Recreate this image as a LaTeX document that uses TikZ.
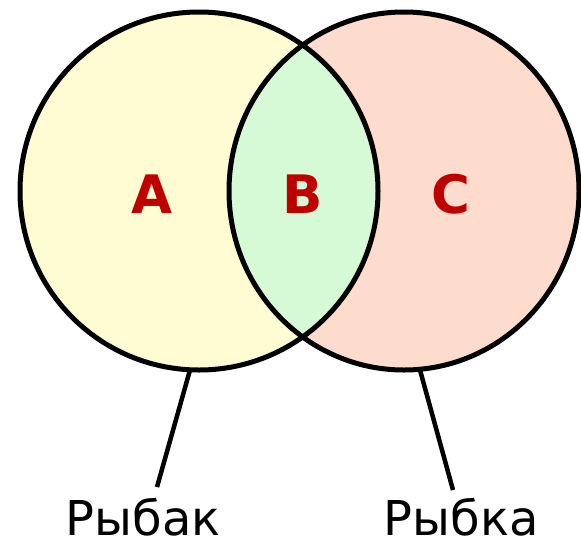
\documentclass[tikz,border=0pt]{standalone}
\usepackage{fontspec}
\setmainfont{DejaVu Sans}
\begin{document}
\begin{tikzpicture}[x=1pt,y=-1pt,
  outline/.style={draw=black,line width=5pt},
  lbl/.style={text=red!75!black,font=\fontsize{53}{53}\selectfont\bfseries,anchor=base,inner sep=0pt},
  captext/.style={font=\fontsize{48}{48}\selectfont,anchor=base,inner sep=0pt},
  stick/.style={line width=4.5pt}]
\useasboundingbox (0,0) rectangle (581,539);
\definecolor{cyel}{HTML}{FFFBD3}
\definecolor{cpink}{HTML}{FDDCCE}
\definecolor{cgreen}{HTML}{D6FAD6}
\fill[cyel] (199,191) ellipse [x radius=179,y radius=179];
\fill[cpink] (404,191) ellipse [x radius=175,y radius=179];
\begin{scope}
\clip (199,191) ellipse [x radius=179,y radius=179];
\fill[cgreen] (404,191) ellipse [x radius=175,y radius=179];
\end{scope}
\draw[outline] (199,191) ellipse [x radius=179,y radius=179];
\draw[outline] (404,191) ellipse [x radius=175,y radius=179];
\node[lbl] (A) at (152,213) {A};
\node[lbl] (B) at (303,213) {B};
\node[lbl] (C) at (451,213) {C};
\coordinate (lt) at (190,370);
\coordinate (rt) at (420,370);
\node[captext] (rybak) at (143,535) {Рыбак};
\node[captext] (rybka) at (461,535) {Рыбка};
\coordinate (lb) at (157,487);
\coordinate (rb) at (453,490);
\draw[stick] (lt) -- (lb);
\draw[stick] (rt) -- (rb);
\end{tikzpicture}
\end{document}
